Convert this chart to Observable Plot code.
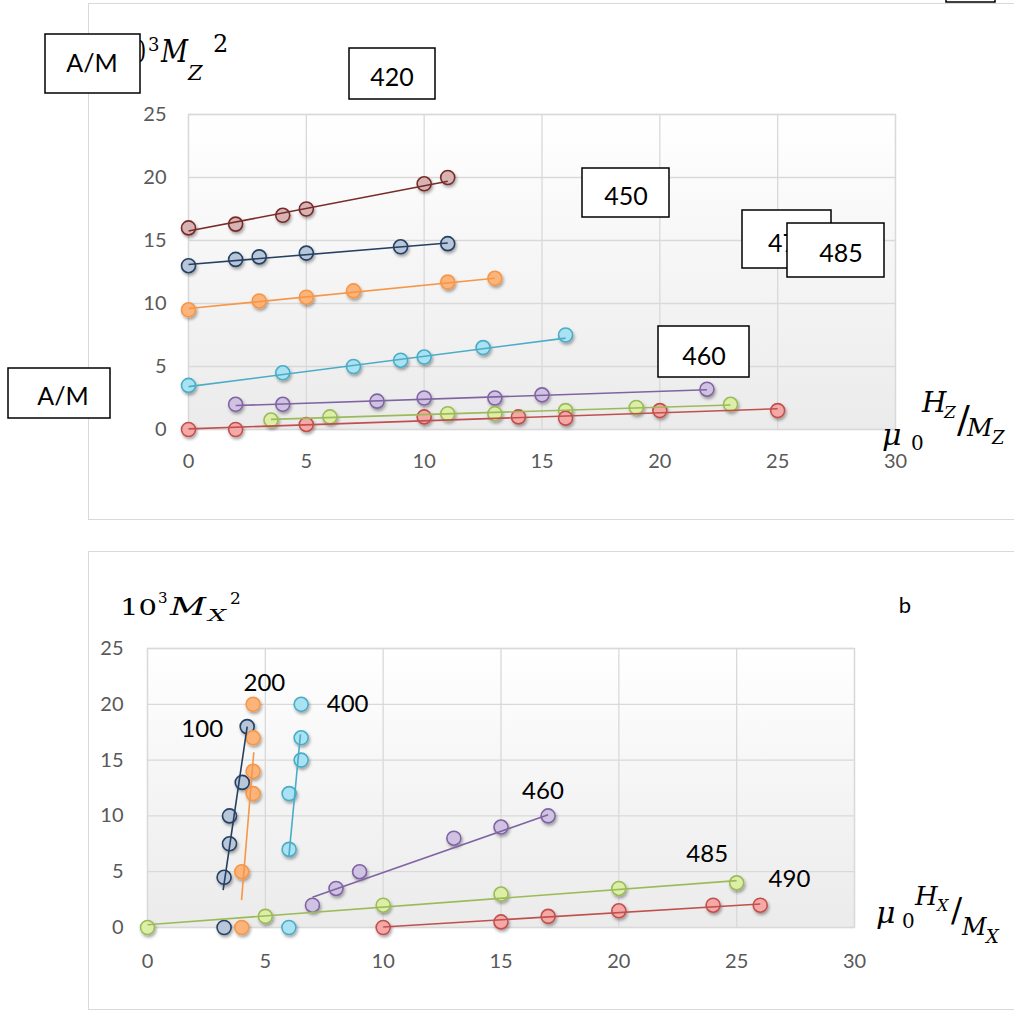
<!DOCTYPE html>
<html>
<head>
<meta charset="utf-8">
<script src="https://cdn.jsdelivr.net/npm/d3@7"></script>
<script src="https://cdn.jsdelivr.net/npm/@observablehq/plot@0.6"></script>
<style>
  body { margin: 0; background: #fff; }
  #page { position: relative; width: 1014px; height: 1010px; overflow: hidden; background: #fff; }
  .layer { position: absolute; left: 0; }
  .frame { position: absolute; border: 1.5px solid #d9d9d9; box-sizing: border-box; }
</style>
</head>
<body>
<div id="page">
  <div class="frame" style="left:88px;top:3px;width:960px;height:517px"></div>
  <div class="frame" style="left:88px;top:551px;width:960px;height:459px"></div>
  <div id="topChart" class="layer" style="top:0"></div>
  <div id="botChart" class="layer" style="top:540px"></div>
  <svg id="overlay" class="layer" style="top:0;pointer-events:none" width="1014" height="1010"></svg>
</div>
<script>
// ---------- DATA ----------
// Top chart (a): 10^3 Mz^2 vs mu0 Hz/Mz
const topSeriesNames = ["dark red", "dark blue", "orange", "cyan", "purple", "green", "red"];
const topX = [
  [0, 2, 4, 5, 10, 11],
  [0, 2, 3, 5, 9, 11],
  [0, 3, 5, 7, 11, 13],
  [0, 4, 7, 9, 10, 12.5, 16],
  [2, 4, 8, 10, 13, 15, 22],
  [3.5, 6, 11, 13, 16, 19, 23],
  [0, 2, 5, 10, 14, 16, 20, 25]
];
const topY = [
  [16, 16.3, 17, 17.5, 19.5, 20],
  [13, 13.5, 13.7, 14, 14.5, 14.75],
  [9.5, 10.2, 10.5, 11, 11.7, 12],
  [3.5, 4.5, 5, 5.5, 5.75, 6.5, 7.5],
  [2, 2, 2.25, 2.5, 2.5, 2.75, 3.2],
  [0.75, 1, 1.25, 1.25, 1.5, 1.75, 2],
  [0, 0, 0.4, 1, 1, 0.9, 1.5, 1.5]
];
// trendline end points [x1, y1, x2, y2]
const topTrend = [
  [0, 15.75, 11, 19.7],
  [0, 13.1, 11, 14.8],
  [0, 9.6, 13, 12],
  [0, 3.4, 16, 7.25],
  [2, 1.9, 22, 3.15],
  [3.5, 0.8, 23, 1.95],
  [0, 0.05, 25, 1.65]
];
const topBoxLabels = ["A/M", "420", "450", "470", "485", "460", "A/M"];

// Bottom chart (b): 10^3 Mx^2 vs mu0 Hx/Mx
const botSeriesNames = ["100", "200", "400", "460", "485", "490"];
const botX = [
  [4.23, 4.02, 3.48, 3.48, 3.25, 3.25],
  [4.48, 4.48, 4.48, 4.48, 4, 4],
  [6.52, 6.52, 6.52, 6.01, 6.01, 6],
  [7, 8, 9, 13, 15, 17],
  [0, 5, 10, 15, 20, 25],
  [10, 15, 17, 20, 24, 26]
];
const botY = [
  [18, 13, 10, 7.5, 4.5, 0],
  [20, 17, 14, 12, 5, 0],
  [20, 17, 15, 12, 7, 0],
  [2, 3.5, 5, 8, 9, 10],
  [0, 1, 2, 3, 3.5, 4],
  [0, 0.5, 1, 1.5, 2, 2]
];
const botTrend = [
  [3.21, 3.35, 4.23, 18],
  [3.99, 2.45, 4.51, 15.7],
  [6.0, 6.4, 6.49, 17.3],
  [7, 2.7, 17, 10.1],
  [0, 0.25, 25, 4.2],
  [10, 0.05, 26, 2.1]
];
const botLabelX = [2.32, 4.96, 8.49, 16.78, 23.75, 27.24];
const botLabelY = [17.8, 21.9, 19.96, 12.2, 6.6, 4.3];

const xTicks = [0, 5, 10, 15, 20, 25, 30];
const yTicks = [0, 5, 10, 15, 20, 25];

// ---------- STYLE ----------
const topStroke = ["#772c2a", "#254061", "#f79646", "#4bacc6", "#8064a2", "#9bbb59", "#c0504d"];
const topFill   = ["#d7b4b3", "#b8c6da", "#fbb57c", "#a9e2f2", "#cfc2e3", "#ddefa6", "#f5a9a7"];
const botStroke = ["#254061", "#f79646", "#4bacc6", "#8064a2", "#9bbb59", "#c0504d"];
const botFill   = ["#b8c6da", "#fbb57c", "#a9e2f2", "#cfc2e3", "#ddefa6", "#f5a9a7"];

function rows(xs, ys) { return xs.map((x, i) => ({x, y: ys[i]})); }

function buildChart({id, xs, ys, trends, strokes, fills, height, mt, mb, ml, mr, xPad, yPad, extraMarks}) {
  const marks = [
    Plot.frame({fill: `url(#grad-${id})`, stroke: "#d9d9d9", strokeWidth: 1.3}),
    Plot.gridX(xTicks, {stroke: "#d9d9d9", strokeOpacity: 1, strokeWidth: 1.3}),
    Plot.gridY(yTicks, {stroke: "#d9d9d9", strokeOpacity: 1, strokeWidth: 1.3})
  ];
  xs.forEach((xArr, i) => {
    marks.push(Plot.dot(rows(xArr, ys[i]), {x: "x", y: "y", r: 7, fill: fills[i], stroke: strokes[i], strokeWidth: 1.6}));
  });
  trends.forEach((t, i) => {
    marks.push(Plot.link([t], {x1: d => d[0], y1: d => d[1], x2: d => d[2], y2: d => d[3], stroke: strokes[i], strokeWidth: 1.6}));
  });
  if (extraMarks) marks.push(...extraMarks);
  const svg = Plot.plot({
    width: 1014, height,
    marginTop: mt, marginBottom: mb, marginLeft: ml, marginRight: mr,
    x: {domain: [0, 30], ticks: xTicks, tickSize: 0, tickPadding: xPad, label: null},
    y: {domain: [0, 25], ticks: yTicks, tickSize: 0, tickPadding: yPad, label: null},
    style: {fontFamily: "Lato, 'Open Sans', sans-serif", fontSize: "20px", color: "#595959", background: "transparent", overflow: "visible"},
    marks
  });
  const s = d3.select(svg);
  const defs = s.insert("defs", ":first-child");
  const g = defs.append("linearGradient").attr("id", `grad-${id}`).attr("x1", 0).attr("y1", 0).attr("x2", 0).attr("y2", 1);
  g.append("stop").attr("offset", "0%").attr("stop-color", "#ffffff");
  g.append("stop").attr("offset", "100%").attr("stop-color", "#ebebeb");
  const f = defs.append("filter").attr("id", `shadow-${id}`).attr("x", "-50%").attr("y", "-50%").attr("width", "200%").attr("height", "200%");
  f.append("feDropShadow").attr("dx", 1.2).attr("dy", 2.2).attr("stdDeviation", 1.4).attr("flood-color", "#000").attr("flood-opacity", 0.35);
  s.selectAll("circle").attr("filter", `url(#shadow-${id})`);
  return svg;
}

document.getElementById("topChart").appendChild(buildChart({
  id: "top", xs: topX, ys: topY, trends: topTrend, strokes: topStroke, fills: topFill,
  height: 530, mt: 114, mb: 101, ml: 188, mr: 119, xPad: 24, yPad: 22
}));

document.getElementById("botChart").appendChild(buildChart({
  id: "bot", xs: botX, ys: botY, trends: botTrend, strokes: botStroke, fills: botFill,
  height: 470, mt: 108, mb: 83, ml: 147, mr: 160, xPad: 26, yPad: 24,
  extraMarks: [Plot.text(botSeriesNames, {x: (d, i) => botLabelX[i], y: (d, i) => botLabelY[i], text: d => d, fill: "#000", fontSize: 24, fontFamily: "Lato, sans-serif"})]
}));

// ---------- OVERLAY: math titles and boxed labels ----------
const ov = d3.select("#overlay");
const serif = "'DejaVu Serif', 'Liberation Serif', serif";
function t(x, y, str, size, italic, len) {
  const e = ov.append("text").attr("x", x).attr("y", y).text(str)
    .attr("font-family", serif).attr("font-size", size).attr("fill", "#000")
    .attr("font-style", italic ? "italic" : "normal");
  if (len) e.attr("textLength", len).attr("lengthAdjust", "spacingAndGlyphs");
  return e;
}
// top y title 10^3 Mz^2 (the "10" is mostly hidden by the A/M box, as in the original)
t(120, 62, "10", 30, false, 26);
t(148, 51, "3", 18, false);
t(161, 62, "M", 31, true, 27);
t(188, 80, "Z", 21, true);
t(213, 52, "2", 24, false);
// top x title mu0 Hz/Mz
t(882, 445, "μ", 30, true);
t(911, 450, "0", 20, false);
t(922, 412, "H", 28, true);
t(944, 418, "Z", 17, true);
t(957, 432, "/", 38, false);
t(967, 436, "M", 25, true);
t(992, 444, "Z", 18, true);
// bottom y title 10^3 Mx^2
t(120, 615, "10", 22, false, 37);
t(158, 603, "3", 15, false);
t(170, 615, "M", 24, true, 36);
t(208, 621, "X", 16, true, 18);
t(230, 604, "2", 17, false);
// bottom x title mu0 Hx/Mx
t(876, 923, "μ", 30, true);
t(902, 928, "0", 20, false);
t(915, 905, "H", 26, true);
t(937, 911, "X", 16, true);
t(951, 922, "/", 33, false);
t(962, 935, "M", 24, true);
t(986, 943, "X", 18, true);
// "b"
ov.append("text").attr("x", 905).attr("y", 613).attr("text-anchor", "middle").text("b")
  .attr("font-family", "Lato, sans-serif").attr("font-size", 22).attr("fill", "#000");

// boxed labels [x, y, w, h]; later boxes cover earlier ones (485 over 470)
const boxRects = [[45, 34, 95, 59], [349, 48, 86, 51], [582, 168, 87, 49], [742, 210, 89, 58], [787, 223, 97, 54], [658, 326, 91, 51], [8, 368, 102, 50]];
const boxTextPos = [[92, 72], [392, 86], [626, 205], [768, 252], [841, 262], [704, 365], [63, 405]];
boxRects.forEach((b, i) => {
  ov.append("rect").attr("x", b[0]).attr("y", b[1]).attr("width", b[2]).attr("height", b[3])
    .attr("fill", "#fff").attr("stroke", "#000").attr("stroke-width", 1.5);
  ov.append("text").attr("x", boxTextPos[i][0]).attr("y", boxTextPos[i][1]).attr("text-anchor", i === 3 ? "start" : "middle")
    .text(topBoxLabels[i]).attr("font-family", "Lato, sans-serif").attr("font-size", 25).attr("fill", "#000");
});
// box cut off at the top right edge
ov.append("rect").attr("x", 946).attr("y", -40).attr("width", 49).attr("height", 42)
  .attr("fill", "#fff").attr("stroke", "#000").attr("stroke-width", 1.5);
</script>
</body>
</html>
